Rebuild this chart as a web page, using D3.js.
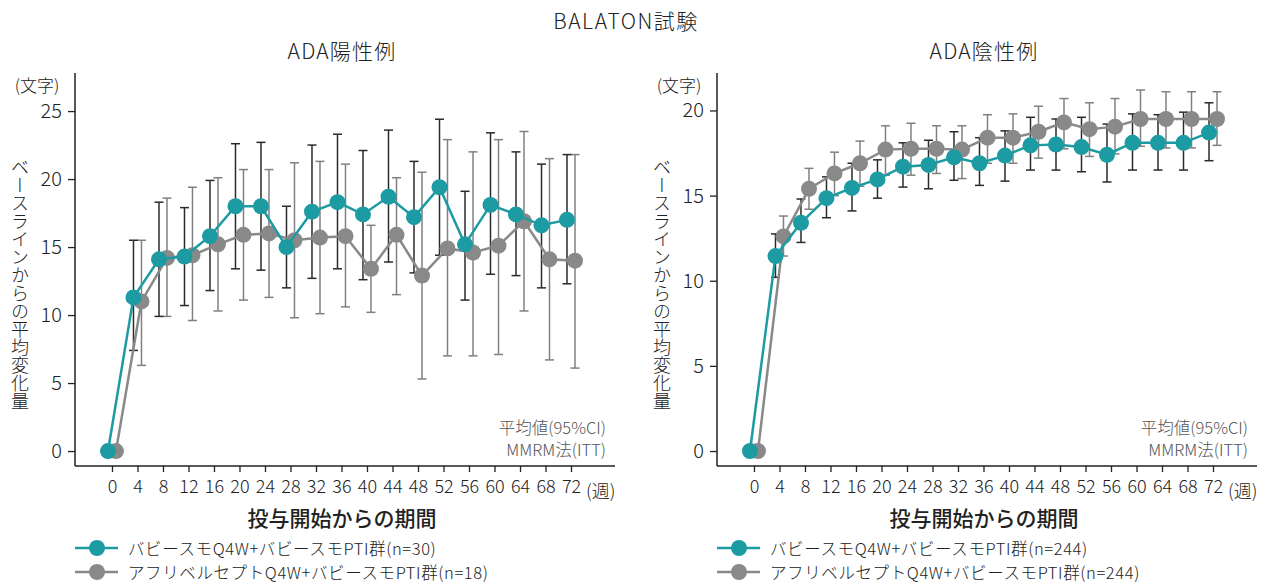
<!DOCTYPE html>
<html>
<head>
<meta charset="utf-8">
<script src="https://cdn.jsdelivr.net/npm/d3@7"></script>
<style>
  body { margin: 0; background: #fff; }
  text { font-family: "Noto Sans CJK JP", "Noto Sans", sans-serif; fill: #222; font-weight: 300; }
</style>
</head>
<body>
<svg id="chart" width="1271" height="585"></svg>
<script>
// weeks since start of dosing
const weeks = [0, 4, 8, 12, 16, 20, 24, 28, 32, 36, 40, 44, 48, 52, 56, 60, 64, 68, 72];

// ADA positive panel
const posTealMean = [0, 11.3, 14.1, 14.3, 15.8, 18.0, 18.0, 15.0, 17.6, 18.3, 17.4, 18.7, 17.2, 19.4, 15.2, 18.1, 17.4, 16.6, 17.0];
const posTealLow  = [null, 7.4, 9.9, 10.7, 11.8, 13.4, 13.3, 12.0, 12.7, 13.4, 12.6, 13.9, 13.1, 14.4, 11.1, 13.0, 12.9, 12.0, 12.3];
const posTealHigh = [null, 15.5, 18.3, 17.9, 19.9, 22.6, 22.7, 18.0, 22.5, 23.3, 22.1, 23.6, 21.3, 24.4, 19.1, 23.4, 22.0, 21.1, 21.8];
const posGrayMean = [0, 11.0, 14.2, 14.4, 15.2, 15.9, 16.0, 15.5, 15.7, 15.8, 13.4, 15.9, 12.9, 14.9, 14.6, 15.1, 16.9, 14.1, 14.0];
const posGrayLow  = [null, 6.3, 9.9, 9.6, 10.3, 11.1, 11.3, 9.8, 10.1, 10.6, 10.2, 11.5, 5.3, 7.0, 7.0, 7.1, 10.3, 6.7, 6.1];
const posGrayHigh = [null, 15.5, 18.6, 19.4, 20.1, 20.7, 20.7, 21.2, 21.3, 21.1, 16.6, 20.1, 20.5, 22.9, 22.0, 22.9, 23.5, 21.5, 21.8];

// ADA negative panel
const negTealMean = [0, 11.45, 13.4, 14.85, 15.45, 15.95, 16.7, 16.8, 17.25, 16.9, 17.35, 17.95, 18.0, 17.85, 17.4, 18.1, 18.1, 18.1, 18.7];
const negTealLow  = [null, 10.2, 12.25, 13.7, 14.1, 14.85, 15.5, 15.4, 15.9, 15.6, 15.85, 16.5, 16.5, 16.4, 15.8, 16.5, 16.5, 16.5, 17.05];
const negTealHigh = [null, 12.75, 14.8, 16.1, 16.9, 17.1, 18.1, 18.25, 18.75, 18.4, 18.8, 19.6, 19.5, 19.6, 19.2, 19.8, 19.75, 19.9, 20.45];
const negGrayMean = [0, 12.6, 15.4, 16.3, 16.9, 17.7, 17.75, 17.75, 17.7, 18.4, 18.4, 18.75, 19.3, 18.9, 19.05, 19.5, 19.5, 19.5, 19.5];
const negGrayLow  = [null, 11.45, 14.2, 15.0, 15.55, 16.2, 16.2, 16.3, 16.0, 16.9, 16.9, 17.2, 17.75, 17.3, 17.45, 17.9, 17.8, 17.8, 17.95];
const negGrayHigh = [null, 13.8, 16.6, 17.55, 18.2, 19.1, 19.25, 19.1, 19.1, 19.75, 19.8, 20.25, 20.7, 20.45, 20.7, 21.2, 21.1, 21.1, 21.1];

const posYTicks = [0, 5, 10, 15, 20, 25];
const negYTicks = [0, 5, 10, 15, 20];

const tealName = 'バビースモQ4W+バビースモPTI群';
const grayName = 'アフリベルセプトQ4W+バビースモPTI群';

const teal = '#1c9ba3';
const gray = '#898989';

const svg = d3.select('#chart');

// main title
svg.append('text')
    .attr('x', 626).attr('y', 20)
    .attr('text-anchor', 'middle').attr('dominant-baseline', 'central')
    .style('font-size', '21px').style('letter-spacing', '1.5px')
    .text('BALATON試験');

function drawPanel(p) {
    const g = svg.append('g').attr('transform', `translate(${p.left},0)`);

    const x = d3.scaleLinear().domain([-5.8, 78.9]).range([0, 540]);
    const y = d3.scaleLinear().domain(p.yDomain).range([466, 73]);

    // subtitle
    g.append('text')
        .attr('x', 267).attr('y', 50)
        .attr('text-anchor', 'middle').attr('dominant-baseline', 'central')
        .style('font-size', '21px').style('letter-spacing', '1.2px')
        .text(p.title);

    // x axis
    const xAxis = g.append('g')
        .attr('transform', 'translate(0,466)')
        .call(d3.axisBottom(x).tickValues(weeks).tickSize(6).tickSizeOuter(0).tickPadding(8));
    // y axis
    const yAxis = g.append('g')
        .call(d3.axisLeft(y).tickValues(p.yTicks).tickSize(7).tickSizeOuter(0).tickPadding(6));

    [xAxis, yAxis].forEach(a => {
        a.select('.domain').attr('stroke', '#222').attr('stroke-width', 1.5);
        a.selectAll('.tick line').attr('stroke', '#222').attr('stroke-width', 1.3);
        a.selectAll('.tick text').style('font-family', '"Noto Sans CJK JP", sans-serif').attr('fill', '#222');
    });
    xAxis.selectAll('.tick text').style('font-size', '18px');
    yAxis.selectAll('.tick text').style('font-size', '20px');
    // stretch the x axis line to meet the y axis
    xAxis.select('.domain').attr('d', 'M0,0H540');
    yAxis.select('.domain').attr('d', `M0,${y.range()[1]}V466`);

    // unit labels
    g.append('text')
        .attr('x', -38).attr('y', 84)
        .attr('text-anchor', 'middle').attr('dominant-baseline', 'central')
        .style('font-size', '17px')
        .text('(文字)');
    g.append('text')
        .attr('x', 511).attr('y', 490)
        .attr('dominant-baseline', 'central')
        .style('font-size', '18px')
        .text('(週)');

    // y title (vertical)
    g.append('text')
        .attr('x', -55).attr('y', 284)
        .attr('text-anchor', 'middle')
        .style('writing-mode', 'vertical-rl')
        .style('text-orientation', 'upright')
        .style('font-size', '18px')
        .text('ベースラインからの平均変化量');

    // x title
    g.append('text')
        .attr('x', 267).attr('y', 517)
        .attr('text-anchor', 'middle').attr('dominant-baseline', 'central')
        .style('font-size', '21px').style('font-weight', 500)
        .text('投与開始からの期間');

    // note
    g.append('text')
        .attr('x', 531).attr('y', 427)
        .attr('text-anchor', 'end').attr('dominant-baseline', 'central')
        .style('font-size', '16.5px').style('fill', '#555')
        .text('平均値(95%CI)');
    g.append('text')
        .attr('x', 531).attr('y', 449)
        .attr('text-anchor', 'end').attr('dominant-baseline', 'central')
        .style('font-size', '16.5px').style('fill', '#555')
        .text('MMRM法(ITT)');

    const series = [
        { mean: p.grayMean, low: p.grayLow, high: p.grayHigh, color: gray, barColor: '#808080', dx: 4 },
        { mean: p.tealMean, low: p.tealLow, high: p.tealHigh, color: teal, barColor: '#2a2a2a', dx: -4 }
    ];

    // error bars
    series.forEach(s => {
        const bars = weeks.map((w, i) => ({ w, lo: s.low[i], hi: s.high[i] })).filter(d => d.lo !== null);
        const eb = g.append('g').attr('stroke', s.barColor).attr('stroke-width', 1.5).attr('fill', 'none');
        eb.selectAll('.v').data(bars).enter().append('line')
            .attr('x1', d => x(d.w) + s.dx).attr('x2', d => x(d.w) + s.dx)
            .attr('y1', d => y(d.lo)).attr('y2', d => y(d.hi));
        eb.selectAll('.cap-hi').data(bars).enter().append('line')
            .attr('x1', d => x(d.w) + s.dx - 4.5).attr('x2', d => x(d.w) + s.dx + 4.5)
            .attr('y1', d => y(d.hi)).attr('y2', d => y(d.hi));
        eb.selectAll('.cap-lo').data(bars).enter().append('line')
            .attr('x1', d => x(d.w) + s.dx - 4.5).attr('x2', d => x(d.w) + s.dx + 4.5)
            .attr('y1', d => y(d.lo)).attr('y2', d => y(d.lo));
    });

    // lines and markers
    series.forEach(s => {
        const pts = weeks.map((w, i) => [x(w) + s.dx, y(s.mean[i])]);
        g.append('path')
            .attr('d', d3.line()(pts))
            .attr('fill', 'none').attr('stroke', s.color).attr('stroke-width', 2.5);
        g.selectAll(null).data(pts).enter().append('circle')
            .attr('cx', d => d[0]).attr('cy', d => d[1]).attr('r', 8)
            .attr('fill', s.color);
    });

    // legend
    const legend = [
        { name: `${tealName}(n=${p.tealN})`, color: teal, y: 548 },
        { name: `${grayName}(n=${p.grayN})`, color: gray, y: 572 }
    ];
    legend.forEach(l => {
        g.append('line').attr('x1', 0).attr('x2', 43).attr('y1', l.y).attr('y2', l.y)
            .attr('stroke', l.color).attr('stroke-width', 2.5);
        g.append('circle').attr('cx', 22).attr('cy', l.y).attr('r', 8).attr('fill', l.color);
        g.append('text')
            .attr('x', 53).attr('y', l.y)
            .attr('dominant-baseline', 'central')
            .style('font-size', '16.5px').style('letter-spacing', '0.6px')
            .text(l.name);
    });
}

drawPanel({
    left: 75, title: 'ADA陽性例', yDomain: [-1.1, 27.8], yTicks: posYTicks,
    tealMean: posTealMean, tealLow: posTealLow, tealHigh: posTealHigh,
    grayMean: posGrayMean, grayLow: posGrayLow, grayHigh: posGrayHigh,
    tealN: 30, grayN: 18
});
drawPanel({
    left: 717, title: 'ADA陰性例', yDomain: [-0.88, 22.2], yTicks: negYTicks,
    tealMean: negTealMean, tealLow: negTealLow, tealHigh: negTealHigh,
    grayMean: negGrayMean, grayLow: negGrayLow, grayHigh: negGrayHigh,
    tealN: 244, grayN: 244
});
</script>
</body>
</html>
